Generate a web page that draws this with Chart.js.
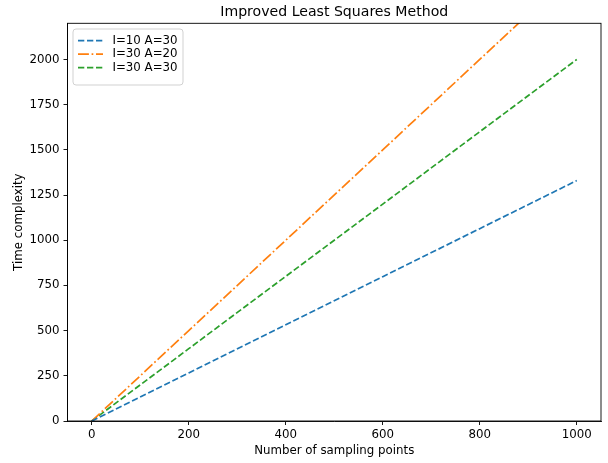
<!DOCTYPE html>
<html>
<head>
<meta charset="utf-8">
<script src="https://cdn.jsdelivr.net/npm/chart.js@4/dist/chart.umd.min.js"></script>
<style>
  html, body { margin: 0; padding: 0; background: #fff; }
  canvas { display: block; }
</style>
</head>
<body>
<canvas id="c" width="608" height="463"></canvas>
<script>
// ---- data ----
const samplePoints = [0, 200, 400, 600, 800, 1000];
const seriesLabels = ['I=10 A=30', 'I=30 A=20', 'I=30 A=30'];
const seriesI10A30 = [0, 266, 532, 798, 1064, 1330];
const seriesI30A20 = [0, 500, 1000, 1500, 2000, 2500];
const seriesI30A30 = [0, 400, 800, 1200, 1600, 2000];
const xTicks = [0, 200, 400, 600, 800, 1000];
const yTicks = [0, 250, 500, 750, 1000, 1250, 1500, 1750, 2000];
const chartTitle = 'Improved Least Squares Method';
const xTitle = 'Number of sampling points';
const yTitle = 'Time complexity';

const FONT = "'DejaVu Sans', sans-serif";
const FS = 11.8;

function pts(ys) { return samplePoints.map((x, i) => ({ x: x, y: ys[i] })); }

const dashA = [6.3, 2.7];
const dashDot = [10.9, 2.7, 1.7, 2.7];

const datasets = [
  { label: seriesLabels[0], data: pts(seriesI10A30), borderColor: '#1f77b4', borderDash: dashA },
  { label: seriesLabels[1], data: pts(seriesI30A20), borderColor: '#ff7f0e', borderDash: dashDot },
  { label: seriesLabels[2], data: pts(seriesI30A30), borderColor: '#2ca02c', borderDash: dashA }
].map(d => Object.assign(d, { borderWidth: 1.7, pointRadius: 0, fill: false, tension: 0, borderCapStyle: 'butt' }));

const frame = {
  id: 'frame',
  afterDraw(chart) {
    const ctx = chart.ctx, a = chart.chartArea;
    ctx.save();
    ctx.strokeStyle = '#000';
    ctx.lineWidth = 0.9;
    ctx.strokeRect(a.left, a.top, a.right - a.left, a.bottom - a.top);
    ctx.fillStyle = '#000';
    ctx.font = '14.1px ' + FONT;
    ctx.textAlign = 'center';
    ctx.textBaseline = 'middle';
    ctx.fillText(chartTitle, (a.left + a.right) / 2, 12);
    ctx.font = FS + 'px ' + FONT;
    ctx.fillText(xTitle, (a.left + a.right) / 2, 451);
    ctx.save();
    ctx.translate(19, (a.top + a.bottom) / 2);
    ctx.rotate(-Math.PI / 2);
    ctx.fillText(yTitle, 0, 0);
    ctx.restore();
    // legend
    const lx = 73, ly = 29, lw = 110, lh = 56, r = 3;
    ctx.beginPath();
    ctx.moveTo(lx + r, ly);
    ctx.arcTo(lx + lw, ly, lx + lw, ly + lh, r);
    ctx.arcTo(lx + lw, ly + lh, lx, ly + lh, r);
    ctx.arcTo(lx, ly + lh, lx, ly, r);
    ctx.arcTo(lx, ly, lx + lw, ly, r);
    ctx.closePath();
    ctx.fillStyle = 'rgba(255,255,255,0.8)';
    ctx.fill();
    ctx.strokeStyle = '#cccccc';
    ctx.lineWidth = 0.9;
    ctx.stroke();
    const rows = [40.7, 54.2, 67.7];
    chart.data.datasets.forEach((d, i) => {
      ctx.beginPath();
      ctx.setLineDash(d.borderDash);
      ctx.strokeStyle = d.borderColor;
      ctx.lineWidth = 1.7;
      ctx.moveTo(78, rows[i]);
      ctx.lineTo(103, rows[i]);
      ctx.stroke();
      ctx.setLineDash([]);
      ctx.fillStyle = '#000';
      ctx.textAlign = 'left';
      ctx.textBaseline = 'middle';
      ctx.fillText(d.label, 112.5, rows[i]);
    });
    ctx.restore();
  }
};

new Chart(document.getElementById('c'), {
  type: 'line',
  data: { datasets: datasets },
  options: {
    responsive: false,
    animation: false,
    devicePixelRatio: 1,
    layout: { padding: { top: 23.3, right: 7, left: 0, bottom: 0 } },
    plugins: { legend: { display: false }, title: { display: false }, tooltip: { enabled: false } },
    scales: {
      x: {
        type: 'linear', min: -50, max: 1050,
        afterBuildTicks: s => { s.ticks = xTicks.map(v => ({ value: v })); },
        afterFit: s => { s.height = 42; },
        grid: { drawOnChartArea: false, drawTicks: true, tickLength: 4, color: '#000', lineWidth: 0.9 },
        border: { display: true, color: '#000', width: 0.9 },
        ticks: { color: '#000', font: { family: FONT, size: FS }, padding: 3, maxRotation: 0, autoSkip: false, callback: v => String(v) }
      },
      y: {
        type: 'linear', min: 0, max: 2200,
        afterBuildTicks: s => { s.ticks = yTicks.map(v => ({ value: v })); },
        afterFit: s => { s.width = 67.5; },
        grid: { drawOnChartArea: false, drawTicks: true, tickLength: 4, color: '#000', lineWidth: 0.9 },
        border: { display: true, color: '#000', width: 0.9 },
        ticks: { color: '#000', font: { family: FONT, size: FS }, padding: 4, autoSkip: false, callback: v => String(v) }
      }
    }
  },
  plugins: [frame]
});
</script>
</body>
</html>
